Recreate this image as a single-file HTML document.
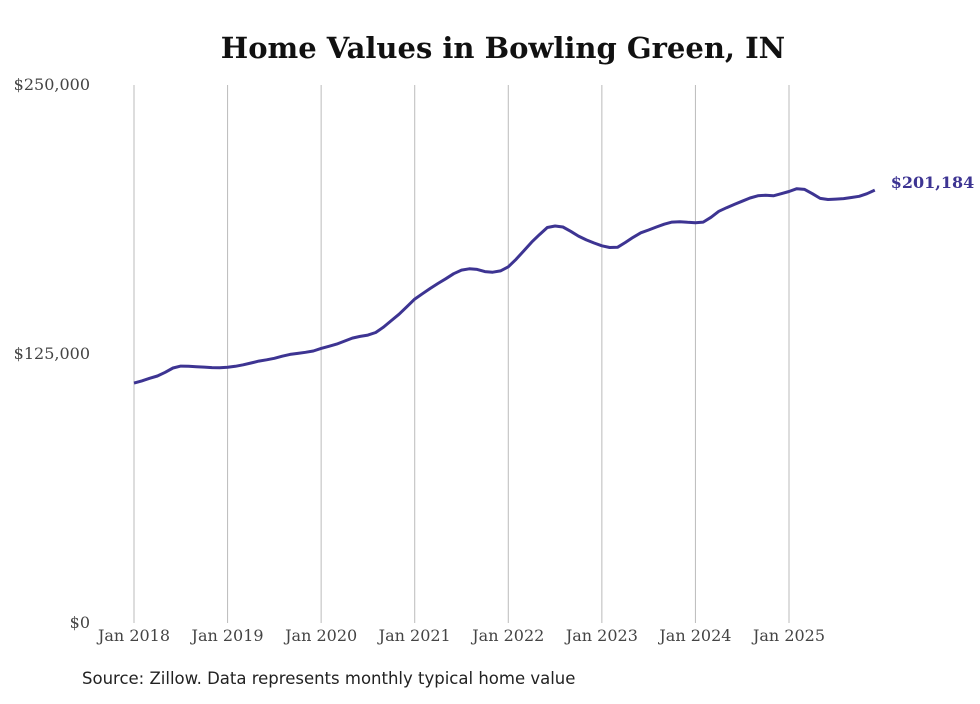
<!DOCTYPE html>
<html><head><meta charset="utf-8"><style>
body{margin:0;background:#fff}
svg text{font-family:"DejaVu Serif","Liberation Serif",serif}
</style></head><body>
<svg id="chart" width="980" height="699" xmlns="http://www.w3.org/2000/svg">
<text x="503" y="58" text-anchor="middle" font-size="29" font-weight="bold" fill="#111">Home Values in Bowling Green, IN</text>
<g id="grid"></g><g id="yaxis"></g><g id="xaxis"></g>
<path id="line" fill="none" stroke="#3d3492" stroke-width="3" stroke-linejoin="round"/>
<text id="endlabel" font-size="16" font-weight="bold" fill="#3d3492"></text>
<text x="82" y="684" font-size="16.5" fill="#222" style="font-family:'DejaVu Sans','Liberation Sans',sans-serif">Source: Zillow. Data represents monthly typical home value</text>
</svg>
<script>
const yearLabels=["Jan 2018","Jan 2019","Jan 2020","Jan 2021","Jan 2022","Jan 2023","Jan 2024","Jan 2025"];
const yTicks=[0,125000,250000];
const yTickLabels=["$0","$125,000","$250,000"];
const values=[111.5,112.5,113.7,114.8,116.5,118.5,119.4,119.3,119.1,118.9,118.7,118.6,
118.8,119.3,120,120.8,121.7,122.3,123,124,124.8,125.3,125.8,126.4,
127.6,128.6,129.6,131,132.4,133.2,133.8,135,137.5,140.5,143.5,147,
150.5,153,155.5,157.8,160,162.3,164,164.6,164.3,163.3,163,163.6,
165.5,169,173,177,180.5,183.8,184.5,184,182,179.8,178,176.6,
175.3,174.5,174.6,176.8,179.2,181.3,182.6,184,185.3,186.3,186.5,186.2,
186,186.3,188.5,191.3,193,194.5,196,197.5,198.5,198.8,198.5,199.5,
200.5,201.8,201.5,199.5,197.3,196.8,197,197.2,197.7,198.3,199.5,201.184];
const NS="http://www.w3.org/2000/svg";
const x=m=>134+m*(655/84);
const y=v=>623-v/250000*538;
function el(t,a,p){const e=document.createElementNS(NS,t);for(const k in a)e.setAttribute(k,a[k]);p.appendChild(e);return e;}
const grid=document.getElementById('grid'),xa=document.getElementById('xaxis'),ya=document.getElementById('yaxis');
yearLabels.forEach((l,i)=>{
 const g=el('line',{x1:x(i*12),x2:x(i*12),y1:85,y2:623,stroke:'#bbb','stroke-width':1},grid);
 
 
 const t=el('text',{x:x(i*12),y:641,'text-anchor':'middle','font-size':16,fill:'#444'},xa);
 t.textContent=l;
 
 
});
yTicks.forEach((v,i)=>{
 const t=el('text',{x:90,y:y(v)+5,'text-anchor':'end','font-size':16,fill:'#444'},ya);
 t.textContent=yTickLabels[i];
 
 
});
let d='';values.forEach((v,i)=>{d+=(i?'L':'M')+x(i).toFixed(1)+','+y(v*1000).toFixed(1);});
document.getElementById('line').setAttribute('d',d);
const last=values[values.length-1]*1000,lbl=document.getElementById('endlabel');
lbl.setAttribute('x',x(values.length-1)+16);lbl.setAttribute('y',y(last)-2);
lbl.textContent='$'+Math.round(last).toLocaleString('en-US');
</script>
</body></html>
